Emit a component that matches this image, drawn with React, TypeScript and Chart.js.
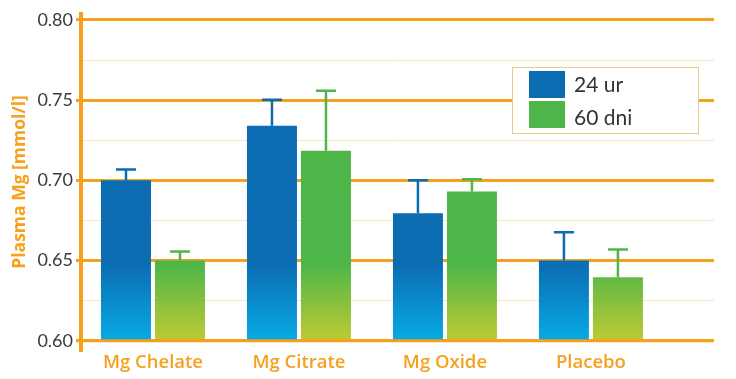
import React, { useEffect, useRef } from 'react';
import { Chart, registerables } from 'chart.js';

Chart.register(...registerables);

// ---------- data ----------
const categories = ['Mg Chelate', 'Mg Citrate', 'Mg Oxide', 'Placebo'];
const seriesNames = ['24 ur', '60 dni'];
const values24h = [0.7, 0.734, 0.6795, 0.65];
const values60d = [0.65, 0.7185, 0.693, 0.6396];
const sd24h = [0.0067, 0.0163, 0.0205, 0.0176];
const sd60d = [0.0056, 0.0374, 0.0076, 0.0172];
const majorTicks = [0.6, 0.65, 0.7, 0.75, 0.8];

// ---------- styles ----------
const ORANGE = '#F5A11E';
const MINOR = '#F6E6C2';
const BLUE_TOP = '#0B6CB2';
const BLUE_BOTTOM = '#08AAE4';
const GREEN_TOP = '#4EB649';
const GREEN_BOTTOM = '#BECA33';

const isMajor = (v: number | undefined) =>
  v !== undefined && majorTicks.some((m) => Math.abs(m - v) < 1e-6);

function gradient(chart: any, top: string, bottom: string) {
  const y = chart.scales?.y;
  if (!chart.chartArea || !y) return top;
  const g = chart.ctx.createLinearGradient(0, y.getPixelForValue(0.6), 0, y.getPixelForValue(0.648));
  g.addColorStop(0, bottom);
  g.addColorStop(1, top);
  return g;
}

const errorBarPlugin = {
  id: 'errorBars',
  afterDatasetsDraw(chart: any) {
    const { ctx } = chart;
    const y = chart.scales.y;
    const sds = [sd24h, sd60d];
    const colors = [BLUE_TOP, GREEN_TOP];
    chart.data.datasets.forEach((ds: any, di: number) => {
      const meta = chart.getDatasetMeta(di);
      meta.data.forEach((bar: any, i: number) => {
        const v = ds.data[i].y;
        const topPx = y.getPixelForValue(v + sds[di][i]);
        const basePx = y.getPixelForValue(v);
        ctx.save();
        ctx.strokeStyle = colors[di];
        ctx.lineWidth = 2.5;
        ctx.beginPath();
        ctx.moveTo(bar.x, basePx);
        ctx.lineTo(bar.x, topPx);
        ctx.moveTo(bar.x - 10, topPx);
        ctx.lineTo(bar.x + 10, topPx);
        ctx.stroke();
        ctx.restore();
      });
    });
    // baseline drawn over bar feet
    const { left, right } = chart.chartArea;
    const by = y.getPixelForValue(0.6);
    ctx.save();
    ctx.strokeStyle = ORANGE;
    ctx.lineWidth = 3;
    ctx.beginPath();
    ctx.moveTo(left - 5, by);
    ctx.lineTo(right, by);
    ctx.stroke();
    ctx.restore();
  },
};

const legendPlugin = {
  id: 'boxLegend',
  afterDraw(chart: any) {
    const { ctx } = chart;
    ctx.save();
    ctx.fillStyle = '#ffffff';
    ctx.fillRect(512.5, 67.5, 186, 66);
    ctx.strokeStyle = '#EBCB84';
    ctx.lineWidth = 1;
    ctx.strokeRect(512.5, 67.5, 186, 66);
    const sw = [BLUE_TOP, GREEN_TOP];
    ctx.font = '21px Lato';
    ctx.textBaseline = 'alphabetic';
    ctx.textAlign = 'left';
    seriesNames.forEach((name, i) => {
      ctx.fillStyle = sw[i];
      ctx.fillRect(529, 71 + i * 30, 36, 27);
      ctx.fillStyle = '#333333';
      ctx.fillText(name, 574, 92 + i * 33);
    });
    ctx.restore();
  },
};

export default function App() {
  const ref = useRef<HTMLCanvasElement | null>(null);

  useEffect(() => {
    if (!ref.current) return;
    const chart = new Chart(ref.current, {
      type: 'bar',
      data: {
        datasets: [
          {
            label: seriesNames[0],
            data: values24h.map((v, i) => ({ x: i, y: v })),
            base: 0.6,
            backgroundColor: (c: any) => gradient(c.chart, BLUE_TOP, BLUE_BOTTOM),
            borderWidth: 0,
            categoryPercentage: 108 / 146,
            barPercentage: 50 / 54,
          } as any,
          {
            label: seriesNames[1],
            data: values60d.map((v, i) => ({ x: i, y: v })),
            base: 0.6,
            backgroundColor: (c: any) => gradient(c.chart, GREEN_TOP, GREEN_BOTTOM),
            borderWidth: 0,
            categoryPercentage: 108 / 146,
            barPercentage: 50 / 54,
          } as any,
        ],
      },
      options: {
        responsive: false,
        animation: false,
        layout: { padding: { left: 0, right: 22, top: 14, bottom: 0 } },
        plugins: {
          legend: { display: false },
          tooltip: { enabled: false },
        },
        scales: {
          x: {
            type: 'linear',
            offset: false,
            min: -0.493,
            max: 3.843,
            afterFit: (s: any) => {
              s.height = 29;
            },
            afterBuildTicks: (s: any) => {
              s.ticks = categories.map((_, i) => ({ value: i }));
            },
            grid: { display: false, drawTicks: false, offset: false },
            border: { display: false },
            ticks: {
              stepSize: 1,
              autoSkip: false,
              maxRotation: 0,
              padding: 2,
              color: ORANGE,
              font: { family: 'Open Sans', weight: '600', size: 18.5 },
              callback: (v: any) => categories[v] ?? '',
            },
          },
          y: {
            min: 0.5942,
            max: 0.8037,
            afterFit: (s: any) => {
              s.width = 81;
            },
            border: { display: true, color: ORANGE, width: 4 },
            grid: {
              color: (c: any) => (isMajor(c.tick?.value) ? ORANGE : MINOR),
              lineWidth: (c: any) => (isMajor(c.tick?.value) ? 3 : 1),
              tickColor: (c: any) => (isMajor(c.tick?.value) ? ORANGE : 'rgba(0,0,0,0)'),
              tickWidth: (c: any) => (isMajor(c.tick?.value) ? 3 : 1),
              tickLength: 5,
              drawTicks: true,
            },
            ticks: {
              stepSize: 0.025,
              includeBounds: false,
              autoSkip: false,
              padding: 3,
              color: '#3a3a3a',
              font: { family: 'Lato', size: 18 },
              callback: (v: any) => (isMajor(Number(v)) ? Number(v).toFixed(2) : ''),
            },
            title: {
              display: true,
              text: 'Plasma Mg [mmol/l]',
              color: ORANGE,
              font: { family: 'Open Sans', weight: '700', size: 17.5 },
              padding: { top: 10, bottom: 0 },
            },
          },
        },
      } as any,
      plugins: [errorBarPlugin, legendPlugin],
    });
    return () => chart.destroy();
  }, []);

  return (
    <div style={{ position: 'fixed', left: 0, top: 0, width: 736, height: 379, background: '#fff' }}>
      <canvas ref={ref} width={736} height={379} style={{ width: 736, height: 379, display: 'block' }} />
    </div>
  );
}
